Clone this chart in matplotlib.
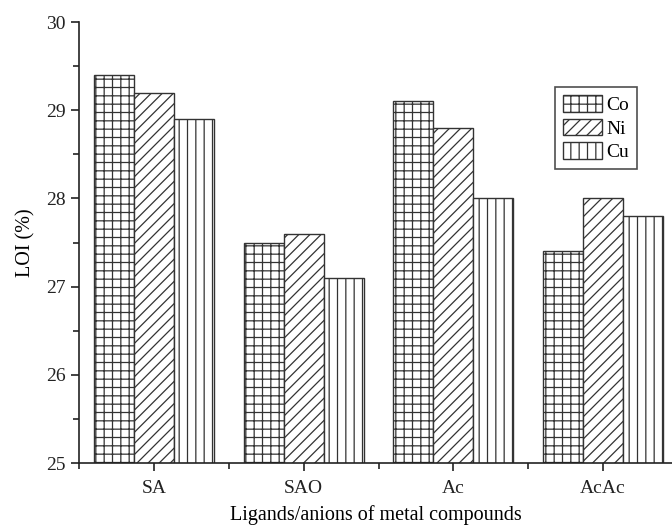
import numpy as np
import matplotlib
matplotlib.use("Agg")
import matplotlib.pyplot as plt
from matplotlib.ticker import MultipleLocator

categories = ["SA", "SAO", "Ac", "AcAc"]
co = [29.4, 27.5, 29.1, 27.4]
ni = [29.2, 27.6, 28.8, 28.0]
cu = [28.9, 27.1, 28.0, 27.8]

plt.rcParams['font.family'] = ['Liberation Serif', 'DejaVu Serif']
plt.rcParams['hatch.linewidth'] = 0.9
plt.rcParams['hatch.color'] = '#333333'

fig = plt.figure(figsize=(6.72, 5.27), dpi=100)
ax = fig.add_axes([0.1176, 0.1214, 0.8824, 0.8366])

x = np.arange(len(categories))
w = 0.267
ax.bar(x - w, co, w, color='white', edgecolor='#333333', linewidth=1, hatch='++', label='Co')
ax.bar(x, ni, w, color='white', edgecolor='#333333', linewidth=1, hatch='///', label='Ni')
ax.bar(x + w, cu, w, color='white', edgecolor='#333333', linewidth=1, hatch='||', label='Cu')

ax.set_ylim(25, 30)
ax.set_xlim(-0.5, 3.46)
ax.set_xticks(x)
ax.set_xticklabels(categories)
ax.xaxis.set_minor_locator(plt.FixedLocator([-0.5, 0.5, 1.5, 2.5]))
ax.yaxis.set_major_locator(MultipleLocator(1))
ax.yaxis.set_minor_locator(MultipleLocator(0.5))

ax.spines['top'].set_visible(False)
ax.spines['right'].set_visible(False)
for s in ['left', 'bottom']:
    ax.spines[s].set_linewidth(1.2)
    ax.spines[s].set_color('#222222')

ax.tick_params(axis='both', which='major', direction='out', length=6, width=1.2, labelsize=14, colors='#222222')
ax.tick_params(axis='x', which='major', pad=6)
ax.tick_params(axis='both', which='minor', direction='out', length=4, width=1.2, colors='#222222')

ax.set_xlabel("Ligands/anions of metal compounds", fontsize=14.5, labelpad=6)
ax.set_ylabel("LOI (%)", fontsize=14.5, labelpad=8)

leg = ax.legend(loc='upper left', bbox_to_anchor=(0.803, 0.852), fontsize=14, frameon=True, fancybox=False,
                edgecolor='#222222', handlelength=2.0, handleheight=0.95, handletextpad=0.25,
                labelspacing=0.22, borderpad=0.4, borderaxespad=0)
leg.get_frame().set_linewidth(1.2)

fig.savefig("out.png", dpi=100)
